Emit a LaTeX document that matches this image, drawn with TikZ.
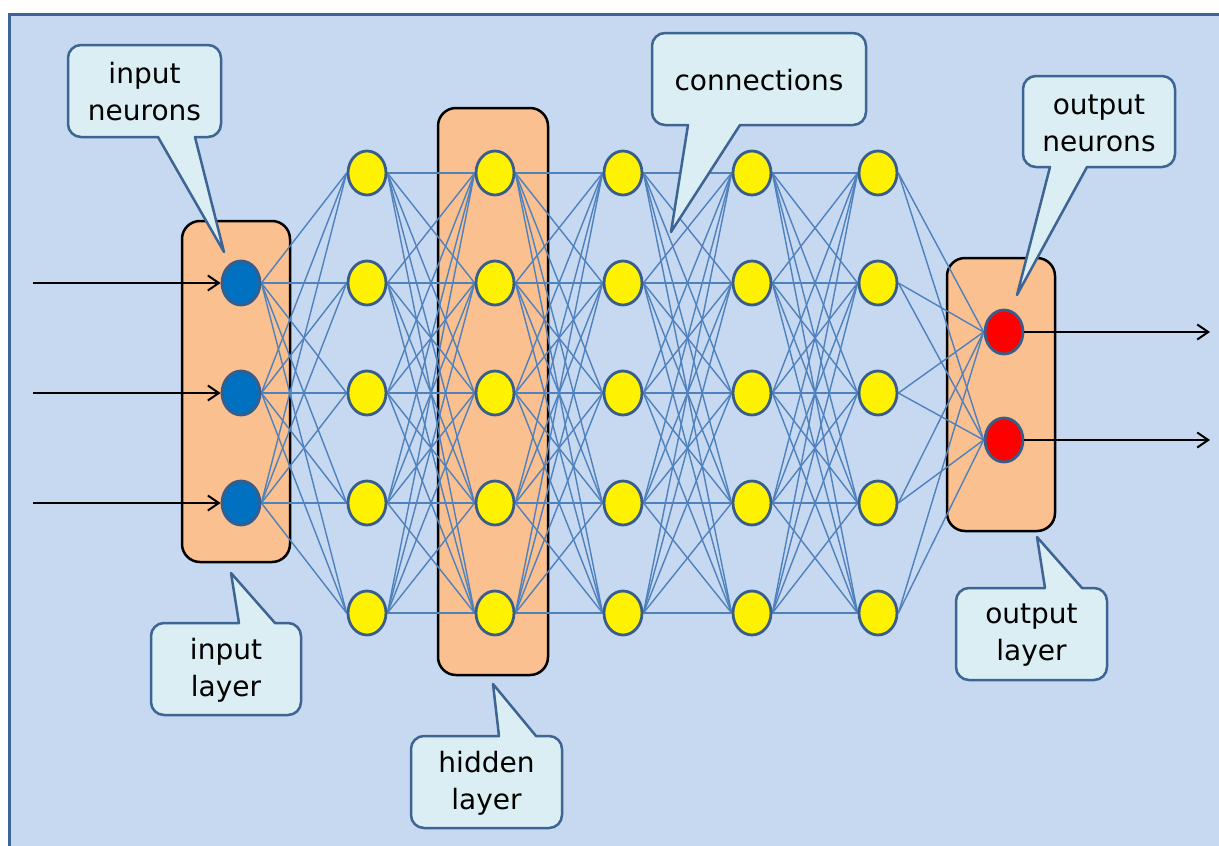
\documentclass[tikz,border=0pt]{standalone}
\usepackage{fontspec}
\setmainfont{DejaVu Sans}
\usetikzlibrary{shapes.geometric,arrows.meta}
\definecolor{bgfill}{HTML}{C6D9F1}
\definecolor{bgline}{HTML}{3D6397}
\definecolor{boxfill}{HTML}{FAC090}
\definecolor{calfill}{HTML}{DAEEF3}
\definecolor{calline}{HTML}{3E6494}
\definecolor{connc}{HTML}{4F81BD}
\definecolor{nline}{HTML}{385D8A}
\definecolor{inblue}{HTML}{0070C0}
\pgfdeclarelayer{bglayer}
\pgfdeclarelayer{edges}
\pgfdeclarelayer{front}
\pgfsetlayers{bglayer,edges,main,front}
\tikzset{
  neuron/.style={ellipse, draw=nline, line width=2.8pt, minimum width=38pt, minimum height=44pt, inner sep=0pt},
  layerbox/.style={draw=black, fill=boxfill, line width=2.5pt, rounded corners=18pt, inner sep=0pt},
  conn/.style={draw=connc, line width=1.4pt},
  arr/.style={draw=black, line width=2pt, -{Straight Barb[length=11pt,width=15pt]}},
  callbox/.style={draw=calline, fill=calfill, line width=2.5pt, line join=round},
  lbl/.style={align=center, font=\fontsize{28}{37}\selectfont, inner sep=0pt}
}
\begin{document}
\begin{tikzpicture}[x=1pt,y=-1pt]
\useasboundingbox (0,0) rectangle (1219,846);
\begin{pgfonlayer}{bglayer}
\begin{scope}
\clip (0,0) rectangle (1219,846);
\draw[draw=bgline, fill=bgfill, line width=3pt] (9,14) rectangle (1240,870);
\end{scope}
\node[layerbox, minimum width=108pt, minimum height=341pt] (inbox) at (236,391.5) {};
\node[layerbox, minimum width=110pt, minimum height=567pt] (hidbox) at (493,391.5) {};
\node[layerbox, minimum width=108pt, minimum height=273pt] (outbox) at (1001,394.5) {};
\end{pgfonlayer}

% neurons
\foreach \y [count=\j] in {283,393,503}
  \node[neuron, fill=inblue] (n0-\j) at (241,\y) {};
\foreach \i/\x in {1/367,2/495,3/623,4/752,5/878}
  \foreach \y [count=\j] in {173,283,393,503,613}
    \node[neuron, fill=yellow] (n\i-\j) at (\x,\y) {};
\foreach \y [count=\j] in {332,440}
  \node[neuron, fill=red] (n6-\j) at (1004,\y) {};

% connections
\begin{pgfonlayer}{edges}
\foreach \a in {1,2,3}
  \foreach \b in {1,...,5}
    \draw[conn] (n0-\a.east) -- (n1-\b.west);
\foreach \i [evaluate=\i as \k using int(\i+1)] in {1,...,4}
  \foreach \a in {1,...,5}
    \foreach \b in {1,...,5}
      \draw[conn] (n\i-\a.east) -- (n\k-\b.west);
\foreach \a in {1,...,5}
  \foreach \b in {1,2}
    \draw[conn] (n5-\a.east) -- (n6-\b.west);
\end{pgfonlayer}

% input / output arrows
\coordinate (in1) at (33,283);
\coordinate (in2) at (33,393);
\coordinate (in3) at (33,503);
\coordinate (out1) at (1210,332);
\coordinate (out2) at (1210,440);
\draw[arr] (in1) -- (n0-1.west);
\draw[arr] (in2) -- (n0-2.west);
\draw[arr] (in3) -- (n0-3.west);
\draw[arr] (n6-1.east) -- (out1);
\draw[arr] (n6-2.east) -- (out2);

% callouts
\begin{pgfonlayer}{front}
\coordinate (tipA) at (224,252);
\draw[callbox] (195,137) [rounded corners=13pt] -- (221,137) -- (221,45) -- (68,45) -- (68,137) [sharp corners] -- (158,137) -- (tipA) -- cycle;
\node[lbl] (txtA) at (144.5,92) {input\\neurons};

\coordinate (tipB) at (671,232);
\draw[callbox] (740,125) [rounded corners=13pt] -- (866,125) -- (866,33) -- (652,33) -- (652,125) [sharp corners] -- (688,125) -- (tipB) -- cycle;
\node[lbl] (txtB) at (759,80) {connections};

\coordinate (tipC) at (1017,295);
\draw[callbox] (1087,167) [rounded corners=13pt] -- (1175,167) -- (1175,76) -- (1023,76) -- (1023,167) [sharp corners] -- (1050,167) -- (tipC) -- cycle;
\node[lbl] (txtC) at (1099,123) {output\\neurons};

\coordinate (tipD) at (231,573);
\draw[callbox] (239,623) [rounded corners=13pt] -- (151,623) -- (151,715) -- (301,715) -- (301,623) [sharp corners] -- (275,623) -- (tipD) -- cycle;
\node[lbl] (txtD) at (226,670) {input\\layer};

\coordinate (tipE) at (493,684);
\draw[callbox] (499,736) [rounded corners=13pt] -- (411,736) -- (411,828) -- (562,828) -- (562,736) [sharp corners] -- (536,736) -- (tipE) -- cycle;
\node[lbl] (txtE) at (486.5,783) {hidden\\layer};

\coordinate (tipF) at (1037,537);
\draw[callbox] (1045,588) [rounded corners=13pt] -- (956,588) -- (956,680) -- (1107,680) -- (1107,588) [sharp corners] -- (1082,588) -- (tipF) -- cycle;
\node[lbl] (txtF) at (1031.5,635) {output\\layer};
\end{pgfonlayer}
\end{tikzpicture}
\end{document}
